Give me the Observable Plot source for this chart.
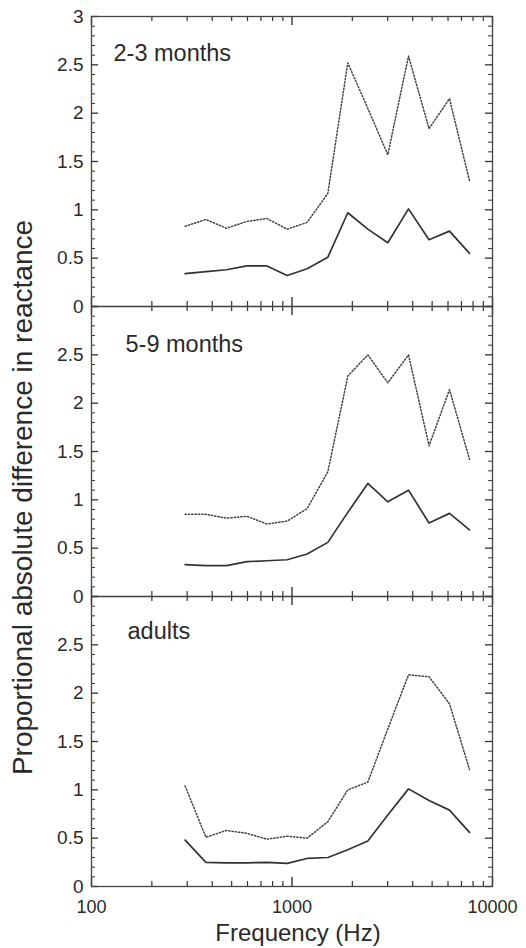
<!DOCTYPE html>
<html><head><meta charset="utf-8">
<script src="https://cdn.jsdelivr.net/npm/d3@7"></script>
<script src="https://cdn.jsdelivr.net/npm/@observablehq/plot@0.6"></script>
<style>body{margin:0;background:#fff}svg{display:block}</style>
</head><body><div id="chart"></div>
<script>
const panels = ["2-3 months", "5-9 months", "adults"];
const freqs = [293, 372, 471, 595, 750, 946, 1190, 1509, 1898, 2389, 3005, 3811, 4825, 6103, 7679];
const solid23  = [0.34, 0.36, 0.38, 0.42, 0.42, 0.32, 0.39, 0.51, 0.97, 0.80, 0.66, 1.01, 0.69, 0.78, 0.55];
const dotted23 = [0.83, 0.90, 0.81, 0.88, 0.91, 0.80, 0.87, 1.17, 2.52, 2.05, 1.57, 2.59, 1.84, 2.15, 1.30];
const solid59  = [0.33, 0.32, 0.32, 0.36, 0.37, 0.38, 0.44, 0.56, 0.87, 1.17, 0.98, 1.10, 0.76, 0.86, 0.69];
const dotted59 = [0.85, 0.85, 0.81, 0.83, 0.75, 0.78, 0.91, 1.29, 2.28, 2.50, 2.21, 2.50, 1.56, 2.14, 1.42];
const solidAd  = [0.48, 0.25, 0.245, 0.245, 0.25, 0.24, 0.29, 0.30, 0.38, 0.47, 0.74, 1.01, 0.89, 0.79, 0.56];
const dottedAd = [1.04, 0.51, 0.58, 0.55, 0.49, 0.52, 0.50, 0.67, 1.00, 1.08, 1.63, 2.19, 2.17, 1.89, 1.21];
const xTickLabels = [100, 1000, 10000];
const xMinorTicks = [200, 300, 400, 500, 600, 700, 800, 900, 2000, 3000, 4000, 5000, 6000, 7000, 8000, 9000];
const yTickLabels = ["0", "0.5", "1", "1.5", "2", "2.5", "3"];
const yMajorTicks = [0, 0.5, 1, 1.5, 2, 2.5, 3];
const yMinorTicks = [0.1,0.2,0.3,0.4,0.6,0.7,0.8,0.9,1.1,1.2,1.3,1.4,1.6,1.7,1.8,1.9,2.1,2.2,2.3,2.4,2.6,2.7,2.8,2.9];
const xTitle = "Frequency (Hz)";
const yTitle = "Proportional absolute difference in reactance";

const seriesByPanel = [[solid23, dotted23], [solid59, dotted59], [solidAd, dottedAd]];
const rows = [];
panels.forEach((p, pi) => {
  ["solid", "dotted"].forEach((s, si) => {
    freqs.forEach((f, i) => rows.push({panel: p, series: s, f, v: seriesByPanel[pi][si][i]}));
  });
});
const yLabelRows = [];
panels.forEach((p, pi) => {
  yMajorTicks.forEach((v, i) => { if (pi === 0 || v < 3) yLabelRows.push({panel: p, v, t: yTickLabels[i]}); });
});

const W = 526, H = 948, ML = 91, MR = 34, MT = 16, MB = 62;
const PW = W - ML - MR;
const PH = (H - MT - MB) / 3;
const FONT = "'Liberation Sans', Arial, Helvetica, sans-serif";
const ink = "#2a2a2a";

const chart = Plot.plot({
  width: W, height: H,
  marginLeft: ML, marginRight: MR, marginTop: MT, marginBottom: MB,
  style: {fontFamily: FONT, color: ink, background: "#fff"},
  x: {type: "log", domain: [100, 10000], axis: null},
  y: {domain: [0, 3], axis: null},
  fy: {domain: panels, axis: null, padding: 0},
  marks: [
    Plot.tickY(yMajorTicks, {y: d => d, insetRight: PW - 7, stroke: "#333", strokeWidth: 1.3}),
    Plot.tickY(yMajorTicks, {y: d => d, insetLeft: PW - 7, stroke: "#333", strokeWidth: 1.3}),
    Plot.tickY(yMinorTicks, {y: d => d, insetRight: PW - 4, stroke: "#444", strokeWidth: 1.1}),
    Plot.tickY(yMinorTicks, {y: d => d, insetLeft: PW - 4, stroke: "#444", strokeWidth: 1.1}),
    Plot.tickX(xMinorTicks, {x: d => d, insetTop: PH - 5, stroke: "#333", strokeWidth: 1.2}),
    Plot.tickX(xMinorTicks, {x: d => d, insetBottom: PH - 5, stroke: "#333", strokeWidth: 1.2}),
    Plot.tickX(xTickLabels, {x: d => d, insetTop: PH - 9, stroke: "#333", strokeWidth: 1.4}),
    Plot.tickX(xTickLabels, {x: d => d, insetBottom: PH - 9, stroke: "#333", strokeWidth: 1.4}),
    Plot.frame({stroke: "#444", strokeWidth: 1.3}),
    Plot.line(rows.filter(d => d.series === "solid"), {x: "f", y: "v", fy: "panel", stroke: "#333", strokeWidth: 1.7}),
    Plot.line(rows.filter(d => d.series === "dotted"), {x: "f", y: "v", fy: "panel", stroke: "#444", strokeWidth: 1.5, strokeDasharray: "1.3 2"}),
    Plot.text(yLabelRows, {y: "v", fy: "panel", text: "t", frameAnchor: "left", textAnchor: "end", dx: -8, fontSize: 19, fill: ink}),
    Plot.text([panels[0]], {fy: d => d, text: d => d, frameAnchor: "top-left", textAnchor: "start", lineAnchor: "bottom", dx: 22, dy: 44, fontSize: 23.5, fill: ink}),
    Plot.text([panels[1]], {fy: d => d, text: d => d, frameAnchor: "top-left", textAnchor: "start", lineAnchor: "bottom", dx: 34, dy: 45, fontSize: 23.5, fill: ink}),
    Plot.text([panels[2]], {fy: d => d, text: d => d, frameAnchor: "top-left", textAnchor: "start", lineAnchor: "bottom", dx: 36, dy: 42, fontSize: 23.5, fill: ink}),
    Plot.text(xTickLabels.map(v => ({v, panel: panels[2]})), {x: "v", fy: "panel", text: d => String(d.v), frameAnchor: "bottom", lineAnchor: "bottom", dy: 26, fontSize: 18, fill: ink}),
    Plot.text([xTitle], {fy: () => panels[2], text: d => d, frameAnchor: "bottom", lineAnchor: "bottom", dx: 6, dy: 54, fontSize: 24, fill: ink}),
    Plot.text([yTitle], {fy: () => panels[1], text: d => d, frameAnchor: "left", textAnchor: "middle", rotate: -90, dx: -68, dy: 46, fontSize: 28, fill: ink, ariaLabel: "ytitle"})
  ]
});
document.getElementById("chart").appendChild(chart);
const yt = chart.querySelector('text[aria-label="ytitle"]');
if (yt) yt.setAttribute("textLength", 566);
</script>
</body></html>
